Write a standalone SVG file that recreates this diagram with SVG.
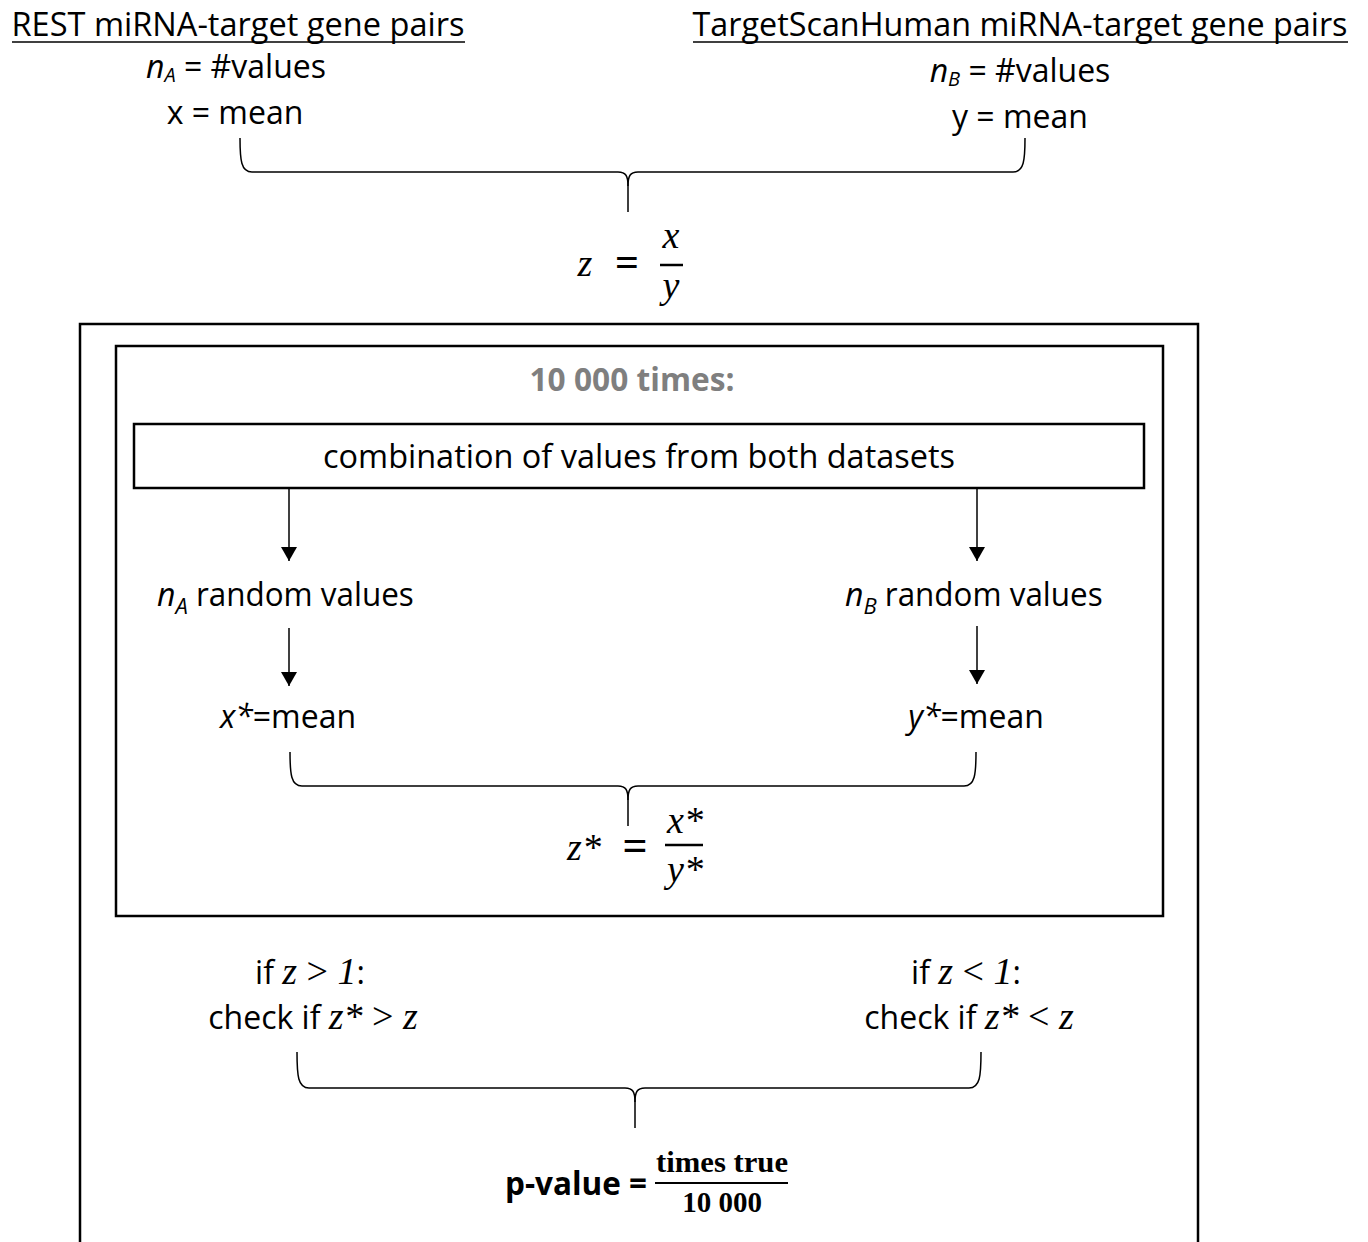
<svg xmlns="http://www.w3.org/2000/svg" width="1368" height="1242" viewBox="0 0 1368 1242">
<defs>
<style>
.t{font-family:"Open Sans","Liberation Sans",sans-serif;font-size:32px;fill:#000}
.it{font-style:italic}
.m{font-family:"Liberation Serif","DejaVu Serif",serif;font-style:italic;font-size:38px;fill:#000}
.ms{font-family:"Liberation Serif","DejaVu Serif",serif;font-size:38px;fill:#000}
.b{font-weight:bold}
.ln{fill:none;stroke:#000;stroke-width:1.5}
.box{fill:none;stroke:#000;stroke-width:2.5}
</style>
<marker id="ah" markerWidth="14" markerHeight="16" refX="14" refY="8" orient="auto" markerUnits="userSpaceOnUse">
<path d="M0,0 L14,8 L0,16 Z" fill="#000"/>
</marker>
</defs>
<rect width="1368" height="1242" fill="#fff"/>

<g id="datasetA">
<text class="t" x="238" y="36" text-anchor="middle" textLength="453" lengthAdjust="spacingAndGlyphs">REST miRNA-target gene pairs</text>
<line x1="12" y1="42" x2="465" y2="42" stroke="#000" stroke-width="1.5"/>
<text class="t" x="236" y="78" text-anchor="middle"><tspan class="it">n</tspan><tspan class="it" font-size="20" dy="4">A</tspan><tspan dy="-4"> = #values</tspan></text>
<text class="t" x="235" y="124" text-anchor="middle">x = mean</text>
</g>

<g id="datasetB">
<text class="t" x="1020" y="82" text-anchor="middle"><tspan class="it">n</tspan><tspan class="it" font-size="20" dy="4">B</tspan><tspan dy="-4"> = #values</tspan></text>
<text class="t" x="1020" y="36" text-anchor="middle" textLength="655" lengthAdjust="spacingAndGlyphs">TargetScanHuman miRNA-target gene pairs</text>
<line x1="693" y1="42" x2="1348" y2="42" stroke="#000" stroke-width="1.5"/>
<text class="t" x="1020" y="128" text-anchor="middle">y = mean</text>
</g>

<g id="connectors">
<path class="ln" d="M240,138 C240,160 241,172 252,172 L618,172 C626,172 628,176 628,186 L628,212"/>
<path class="ln" d="M1025,138 C1025,160 1024,172 1013,172 L638,172 C630,172 628,176 628,186"/>
<line class="ln" x1="289" y1="489" x2="289" y2="561" marker-end="url(#ah)"/>
<line class="ln" x1="977" y1="489" x2="977" y2="561" marker-end="url(#ah)"/>
<line class="ln" x1="289" y1="628" x2="289" y2="686" marker-end="url(#ah)"/>
<line class="ln" x1="977" y1="626" x2="977" y2="684" marker-end="url(#ah)"/>
<path class="ln" d="M290,752 C290,774 291,786 302,786 L618,786 C626,786 628,790 628,800 L628,826"/>
<path class="ln" d="M976,752 C976,774 975,786 964,786 L638,786 C630,786 628,790 628,800"/>
<path class="ln" d="M297,1052 C297,1076 298,1088 309,1088 L625,1088 C633,1088 635,1092 635,1102 L635,1128"/>
<path class="ln" d="M981,1052 C981,1076 980,1088 969,1088 L645,1088 C637,1088 635,1092 635,1102"/>
</g>

<g id="zformula">
<text class="m" x="585" y="276" text-anchor="middle">z</text>
<text class="ms b" x="627" y="276" text-anchor="middle" style="font-size:42px">=</text>
<text class="m" x="671" y="248" text-anchor="middle">x</text>
<line x1="660" y1="265" x2="683" y2="265" stroke="#000" stroke-width="2.5"/>
<text class="m" x="671" y="298" text-anchor="middle">y</text>
</g>

<g id="outerBox">
<rect class="box" x="80" y="324" width="1118" height="940"/>
</g>

<g id="innerBox">
<rect class="box" x="116" y="346" width="1047" height="570"/>
<text class="t b" x="632" y="391" text-anchor="middle" style="fill:#7f7f7f" textLength="205" lengthAdjust="spacingAndGlyphs">10 000 times:</text>
</g>

<g id="combination">
<rect class="box" x="134" y="424" width="1010" height="64"/>
<text class="t" x="639" y="468" text-anchor="middle" textLength="632" lengthAdjust="spacingAndGlyphs">combination of values from both datasets</text>
</g>

<g id="randomA">
<text class="t" x="157" y="606"><tspan class="it">n</tspan><tspan class="it" font-size="22" dy="8">A</tspan><tspan dy="-8" textLength="226" lengthAdjust="spacingAndGlyphs"> random values</tspan></text>
</g>
<g id="randomB">
<text class="t" x="845" y="606"><tspan class="it">n</tspan><tspan class="it" font-size="22" dy="8">B</tspan><tspan dy="-8" textLength="226" lengthAdjust="spacingAndGlyphs"> random values</tspan></text>
</g>

<g id="meanA">
<text class="t" x="288" y="728" text-anchor="middle"><tspan class="it">x*</tspan>=mean</text>
</g>
<g id="meanB">
<text class="t" x="976" y="728" text-anchor="middle"><tspan class="it">y*</tspan>=mean</text>
</g>

<g id="zstar">
<text class="m" x="584" y="860" text-anchor="middle">z*</text>
<text class="ms b" x="635" y="860" text-anchor="middle" style="font-size:44px">=</text>
<text class="m" x="685" y="833" text-anchor="middle">x*</text>
<line x1="665" y1="845" x2="703" y2="845" stroke="#000" stroke-width="2.5"/>
<text class="m" x="685" y="882" text-anchor="middle">y*</text>
</g>

<g id="condA">
<text class="t" x="310" y="984" text-anchor="middle">if <tspan class="m">z</tspan><tspan class="ms"> &gt; </tspan><tspan class="m">1</tspan>:</text>
<text class="t" x="313" y="1029" text-anchor="middle">check if <tspan class="m">z*</tspan><tspan class="ms"> &gt; </tspan><tspan class="m">z</tspan></text>
</g>
<g id="condB">
<text class="t" x="966" y="984" text-anchor="middle">if <tspan class="m">z</tspan><tspan class="ms"> &lt; </tspan><tspan class="m">1</tspan>:</text>
<text class="t" x="969" y="1029" text-anchor="middle">check if <tspan class="m">z*</tspan><tspan class="ms"> &lt; </tspan><tspan class="m">z</tspan></text>
</g>

<g id="pvalue">
<text class="t b" x="576" y="1195" text-anchor="middle" style="font-size:32px" textLength="142" lengthAdjust="spacingAndGlyphs">p-value =</text>
<text class="ms b" x="722" y="1172" text-anchor="middle" style="font-size:29px;font-style:normal" textLength="132" lengthAdjust="spacingAndGlyphs">times true</text>
<line x1="655" y1="1183" x2="788" y2="1183" stroke="#000" stroke-width="2"/>
<text class="ms b" x="722" y="1212" text-anchor="middle" style="font-size:29px;font-style:normal">10 000</text>
</g>
</svg>
